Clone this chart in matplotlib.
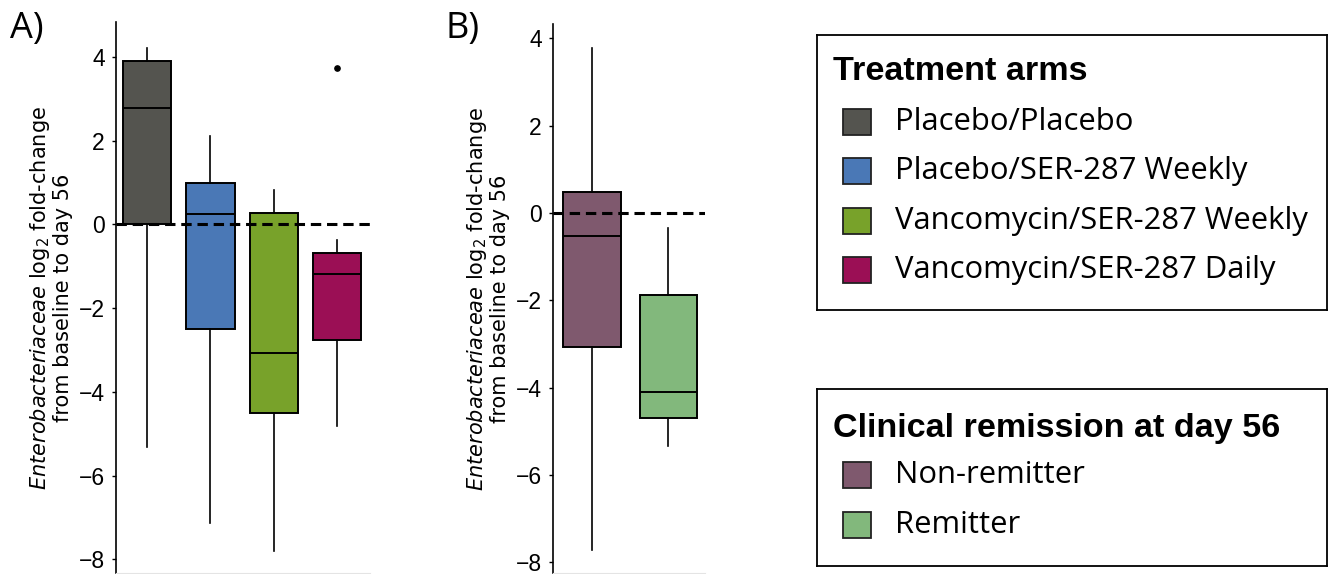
import matplotlib.pyplot as plt
from matplotlib.patches import Rectangle

# box statistics (log2 fold-change)
arm_names = ['Placebo/Placebo', 'Placebo/SER-287 Weekly',
             'Vancomycin/SER-287 Weekly', 'Vancomycin/SER-287 Daily']
arm_colors = ['#54544f', '#4a78b6', '#78a22a', '#9b0f55']
arm_whislo = [-5.32, -7.14, -7.80, -4.82]
arm_q1 = [0.0, -2.49, -4.50, -2.75]
arm_med = [2.78, 0.24, -3.06, -1.18]
arm_q3 = [3.90, 1.00, 0.28, -0.69]
arm_whishi = [4.23, 2.11, 0.82, -0.36]
arm_fliers = [[], [], [], [3.75]]

rem_names = ['Non-remitter', 'Remitter']
rem_colors = ['#7f596e', '#82b87c']
rem_whislo = [-7.72, -5.33]
rem_q1 = [-3.06, -4.70]
rem_med = [-0.53, -4.10]
rem_q3 = [0.48, -1.88]
rem_whishi = [3.78, -0.35]
rem_fliers = [[], []]

yticks = [-8, -6, -4, -2, 0, 2, 4]
ylab = r'$\it{Enterobacteriaceae}$ log$_2$ fold-change' + '\nfrom baseline to day 56'

W, H = 1331, 574
fig = plt.figure(figsize=(W / 100, H / 100), dpi=100)


def px_axes(x0, y0, x1, y1):
    # pixel box (top-left origin) -> figure axes
    return fig.add_axes([x0 / W, 1 - y1 / H, (x1 - x0) / W, (y1 - y0) / H])


def draw_panel(ax, names, colors, lo, q1, med, q3, hi, fliers, width, xlim, ylim):
    stats = []
    for i in range(len(names)):
        stats.append(dict(label=names[i], whislo=lo[i], q1=q1[i], med=med[i],
                          q3=q3[i], whishi=hi[i], fliers=fliers[i]))
    pos = list(range(1, len(names) + 1))
    bp = ax.bxp(stats, positions=pos, widths=width, patch_artist=True,
                showcaps=False,
                boxprops=dict(edgecolor='black', linewidth=1.4),
                medianprops=dict(color='black', linewidth=1.4),
                whiskerprops=dict(color='black', linewidth=1.2),
                flierprops=dict(marker='o', markerfacecolor='black',
                                markeredgecolor='black', markersize=3.8))
    for patch, c in zip(bp['boxes'], colors):
        patch.set_facecolor(c)
    ax.axhline(0, color='black', lw=2.2, dashes=(3.4, 1.9), zorder=5)
    ax.set_xlim(*xlim)
    ax.set_ylim(*ylim)
    ax.set_yticks(yticks)
    ax.set_xticks([])
    for s in ['top', 'right']:
        ax.spines[s].set_visible(False)
    ax.spines['bottom'].set_color('#e4e4e4')
    ax.spines['left'].set_linewidth(1.2)
    ax.tick_params(axis='y', length=3, width=1, pad=5, labelsize=16.5)
    for t in ax.get_yticklabels():
        t.set_fontfamily('Liberation Sans')
    ax.set_ylabel(ylab, fontsize=15, family='DejaVu Sans', linespacing=1.05,
                  labelpad=4)
    ax.patch.set_alpha(0)


axA = px_axes(116, 22, 370, 573)
draw_panel(axA, arm_names, arm_colors, arm_whislo, arm_q1, arm_med, arm_q3,
           arm_whishi, arm_fliers, 0.76, (0.508, 4.52), (-8.33, 4.84))

axB = px_axes(553, 24, 705, 573)
draw_panel(axB, rem_names, rem_colors, rem_whislo, rem_q1, rem_med, rem_q3,
           rem_whishi, rem_fliers, 0.755, (0.49, 2.48), (-8.25, 4.33))

fig.text(10 / W, 1 - 29 / H, 'A)', fontsize=26, family='Open Sans', va='center')
fig.text(445 / W, 1 - 29 / H, 'B)', fontsize=26, family='Open Sans', va='center')


def draw_key(x0, y0, x1, y1, title, names, colors, title_y, rows_y):
    ax = px_axes(x0, y0, x1, y1)
    ax.set_xlim(0, x1 - x0)
    ax.set_ylim(y1 - y0, 0)
    ax.set_xticks([])
    ax.set_yticks([])
    for s in ax.spines.values():
        s.set_linewidth(1.3)
    ax.text(16, title_y - y0, title, fontsize=24.6, fontweight='bold',
            family='Liberation Sans', va='center', ha='left')
    for name, c, ry in zip(names, colors, rows_y):
        ax.add_patch(Rectangle((26, ry - y0 - 13), 28, 26, facecolor=c,
                               edgecolor='#222222', lw=1.3))
        ax.text(78, ry - y0, name, fontsize=22.3, family='Open Sans',
                va='center', ha='left')


draw_key(817, 35, 1327, 310, 'Treatment arms', arm_names, arm_colors,
         71, [121.5, 171, 220.5, 270])
draw_key(817, 389, 1327, 566, 'Clinical remission at day 56', rem_names,
         rem_colors, 428, [475, 525])

fig.savefig('out.png', dpi=100)
